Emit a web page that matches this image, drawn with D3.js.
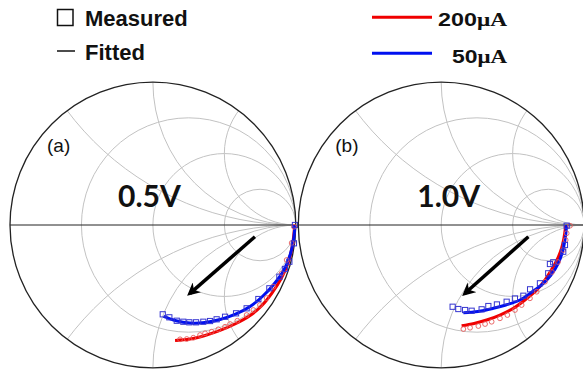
<!DOCTYPE html>
<html>
<head>
<meta charset="utf-8">
<script src="https://cdn.jsdelivr.net/npm/d3@7"></script>
<style>
body{margin:0;background:#fff;}
</style>
</head>
<body>
<div id="chart"></div>
<script>
// Smith chart grid values
var resistanceCircles = [1/3, 1, 3];
var reactanceArcs = [0.5, 1, 2];

var panelLabels = ['(a)', '(b)'];
var biasLabels = ['0.5V', '1.0V'];
var currentLabels = ['200', '50'];

// reflection coefficient points [re, im]
var measured200a = [[0.190,-0.800],[0.237,-0.798],[0.283,-0.789],[0.330,-0.770],[0.365,-0.758],[0.411,-0.747],
	[0.458,-0.730],[0.505,-0.712],[0.540,-0.693],[0.591,-0.670],[0.656,-0.630],[0.703,-0.595],[0.749,-0.560],
	[0.796,-0.511],[0.843,-0.432],[0.901,-0.338],[0.936,-0.245],[0.971,-0.126],[0.987,-0.012]];
var fitted200a = [[0.155,-0.808],[0.260,-0.798],[0.365,-0.773],[0.470,-0.738],[0.574,-0.693],[0.680,-0.633],
	[0.763,-0.563],[0.833,-0.476],[0.896,-0.378],[0.946,-0.266],[0.977,-0.140],[0.991,-0.021],[0.994,0]];
var measured50a = [[0.069,-0.625],[0.115,-0.646],[0.167,-0.670],[0.213,-0.677],[0.255,-0.681],[0.302,-0.681],
	[0.353,-0.677],[0.400,-0.672],[0.446,-0.660],[0.505,-0.642],[0.582,-0.618],[0.656,-0.583],[0.738,-0.518],
	[0.815,-0.443],[0.885,-0.362],[0.924,-0.308],[0.955,-0.257],[0.987,-0.128],[0.994,0]];
var fitted50a = [[0.074,-0.640],[0.155,-0.668],[0.260,-0.686],[0.365,-0.682],[0.470,-0.661],[0.574,-0.626],
	[0.680,-0.570],[0.770,-0.497],[0.854,-0.406],[0.917,-0.315],[0.960,-0.210],[0.984,-0.105],[0.994,0]];

var measured200b = [[0.155,-0.728],[0.202,-0.719],[0.260,-0.707],[0.307,-0.693],[0.353,-0.677],[0.411,-0.653],
	[0.463,-0.630],[0.516,-0.595],[0.563,-0.560],[0.621,-0.513],[0.668,-0.467],[0.726,-0.397],[0.775,-0.329],
	[0.817,-0.259],[0.854,-0.175],[0.871,-0.105],[0.878,-0.058],[0.901,-0.005]];
var fitted200b = [[0.143,-0.705],[0.230,-0.689],[0.318,-0.665],[0.411,-0.630],[0.505,-0.583],[0.586,-0.525],
	[0.668,-0.455],[0.726,-0.385],[0.784,-0.292],[0.810,-0.245],[0.843,-0.161],[0.859,-0.091],[0.871,-0.005]];
var measured50b = [[0.080,-0.572],[0.120,-0.588],[0.167,-0.595],[0.213,-0.600],[0.283,-0.590],[0.330,-0.567],
	[0.390,-0.556],[0.458,-0.537],[0.516,-0.514],[0.575,-0.495],[0.622,-0.450],[0.691,-0.408],[0.749,-0.338],
	[0.761,-0.273],[0.784,-0.261],[0.854,-0.187],[0.866,-0.140],[0.878,-0.005]];
var fitted50b = [[0.155,-0.614],[0.258,-0.605],[0.365,-0.583],[0.453,-0.560],[0.551,-0.525],[0.635,-0.469],
	[0.715,-0.408],[0.768,-0.350],[0.819,-0.268],[0.852,-0.175],[0.871,-0.070],[0.878,0]];

// trend arrows [start, end]
var arrowA = [[0.714,-0.082],[0.260,-0.478]];
var arrowB = [[0.610,-0.082],[0.167,-0.478]];

var W = 583, H = 373;
var R = 142.9, CY = 225;
var RED = '#f00000', BLUE = '#0010f0';

var svg = d3.select('#chart').append('svg')
	.attr('width', W)
	.attr('height', H);
var defs = svg.append('defs');

defs.append('marker')
	.attr('id', 'arrowHead')
	.attr('markerUnits', 'userSpaceOnUse')
	.attr('viewBox', '0 0 10 10')
	.attr('refX', 7)
	.attr('refY', 5)
	.attr('markerWidth', 13)
	.attr('markerHeight', 13)
	.attr('orient', 'auto')
	.append('path')
	.attr('d', 'M0,0 L10,5 L0,10 L3,5 Z')
	.attr('fill', '#000');

function drawPanel(i, cx, meas200, fit200, meas50, fit50, arrow){
	var x = d3.scaleLinear().domain([-1, 1]).range([cx - R, cx + R]);
	var y = d3.scaleLinear().domain([-1, 1]).range([CY + R, CY - R]);
	var k = x(1) - x(0);
	var g = svg.append('g');

	defs.append('clipPath').attr('id', 'clip' + i)
		.append('circle')
		.attr('cx', x(0)).attr('cy', y(0)).attr('r', k);

	//grid
	var grid = g.append('g')
		.attr('clip-path', 'url(#clip' + i + ')')
		.attr('fill', 'none')
		.attr('stroke', '#c2c2c2')
		.attr('stroke-width', 1);
	grid.selectAll('circle.res').data(resistanceCircles).enter()
		.append('circle')
		.attr('class', 'res')
		.attr('cx', function(d){ return x(d / (1 + d)); })
		.attr('cy', y(0))
		.attr('r', function(d){ return k / (1 + d); });
	var arcs = reactanceArcs.concat(reactanceArcs.map(function(d){ return -d; }));
	grid.selectAll('circle.rea').data(arcs).enter()
		.append('circle')
		.attr('class', 'rea')
		.attr('cx', x(1))
		.attr('cy', function(d){ return y(1 / d); })
		.attr('r', function(d){ return k / Math.abs(d); });

	g.append('line')
		.attr('x1', x(-1)).attr('y1', y(0))
		.attr('x2', x(1)).attr('y2', y(0))
		.attr('stroke', '#222')
		.attr('stroke-width', 1);
	g.append('circle')
		.attr('cx', x(0)).attr('cy', y(0)).attr('r', k)
		.attr('fill', 'none')
		.attr('stroke', '#222')
		.attr('stroke-width', 1.3);

	//labels
	g.append('text')
		.attr('x', x(-1) + 37).attr('y', y(0) - 73)
		.attr('font-family', 'Liberation Sans, Arial, sans-serif')
		.attr('font-size', '19px')
		.attr('fill', '#111')
		.text(panelLabels[i]);
	g.append('text')
		.attr('x', x(-1) + 108 + (i ? 11 : 0)).attr('y', y(0) - 18)
		.attr('font-family', 'Lato, sans-serif')
		.attr('font-weight', 'bold')
		.attr('font-size', '30px')
		.attr('fill', '#111')
		.text(biasLabels[i]);

	//fitted curves
	var line = d3.line()
		.x(function(d){ return x(d[0]); })
		.y(function(d){ return y(d[1]); })
		.curve(d3.curveCatmullRom);
	[[fit200, RED], [fit50, BLUE]].forEach(function(s){
		g.append('path')
			.datum(s[0])
			.attr('d', line)
			.attr('fill', 'none')
			.attr('stroke', s[1])
			.attr('stroke-width', 3);
	});

	//measured points
	g.selectAll('circle.m200').data(meas200).enter()
		.append('circle')
		.attr('class', 'm200')
		.attr('cx', function(d){ return x(d[0]); })
		.attr('cy', function(d){ return y(d[1]); })
		.attr('r', 2.4)
		.attr('fill', 'none')
		.attr('stroke', '#e85a5a')
		.attr('stroke-width', 0.9);
	g.selectAll('rect.m50').data(meas50).enter()
		.append('rect')
		.attr('class', 'm50')
		.attr('x', function(d){ return x(d[0]) - 2.6; })
		.attr('y', function(d){ return y(d[1]) - 2.6; })
		.attr('width', 5.2)
		.attr('height', 5.2)
		.attr('fill', 'none')
		.attr('stroke', '#3535d0')
		.attr('stroke-width', 1);

	//arrow
	g.append('line')
		.attr('x1', x(arrow[0][0])).attr('y1', y(arrow[0][1]))
		.attr('x2', x(arrow[1][0])).attr('y2', y(arrow[1][1]))
		.attr('stroke', '#000')
		.attr('stroke-width', 3.5)
		.attr('marker-end', 'url(#arrowHead)');
}

drawPanel(0, 152.9, measured200a, fitted200a, measured50a, fitted50a, arrowA);
drawPanel(1, 441.2, measured200b, fitted200b, measured50b, fitted50b, arrowB);

//legend
var lg = svg.append('g');
lg.append('rect')
	.attr('x', 57.5).attr('y', 9.5).attr('width', 15.5).attr('height', 16)
	.attr('fill', 'none').attr('stroke', '#111').attr('stroke-width', 1.5);
lg.append('line')
	.attr('x1', 57).attr('x2', 75).attr('y1', 51).attr('y2', 51)
	.attr('stroke', '#111').attr('stroke-width', 1.5);
[['Measured', 26], ['Fitted', 60]].forEach(function(t){
	lg.append('text')
		.attr('x', 85).attr('y', t[1])
		.attr('font-family', 'Liberation Sans, Arial, sans-serif')
		.attr('font-weight', 'bold')
		.attr('font-size', '22px')
		.attr('fill', '#111')
		.text(t[0]);
});
[[RED, 17.3, 438, 26, 69], [BLUE, 53.3, 452, 62.5, 55]].forEach(function(s, i){
	lg.append('line')
		.attr('x1', 372).attr('x2', 432).attr('y1', s[1]).attr('y2', s[1])
		.attr('stroke', s[0]).attr('stroke-width', 3);
	var t = lg.append('text')
		.attr('x', s[2]).attr('y', s[3])
		.attr('font-weight', 'bold')
		.attr('font-size', '18px')
		.attr('fill', '#111')
		.attr('textLength', s[4])
		.attr('lengthAdjust', 'spacingAndGlyphs');
	t.append('tspan').attr('font-family', 'Liberation Sans, Arial, sans-serif').text(currentLabels[i]);
	t.append('tspan').attr('font-family', 'Liberation Serif, Times New Roman, serif').text('\u03bcA');
});
</script>
</body>
</html>
